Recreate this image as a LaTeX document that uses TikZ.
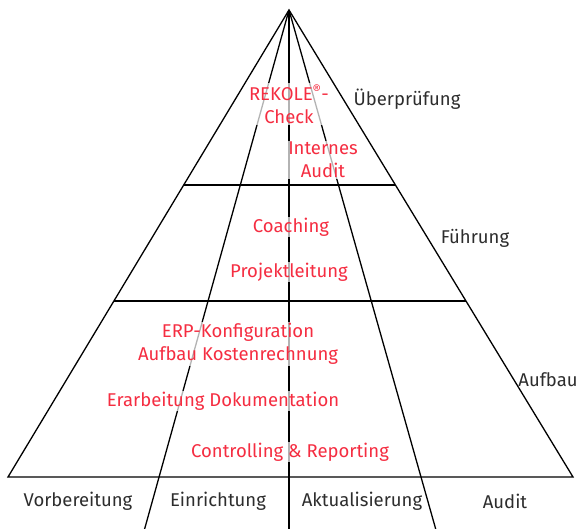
\documentclass[tikz,border=0pt]{standalone}
\usepackage{fontspec}
\setmainfont{Fira Sans}
\definecolor{redtxt}{RGB}{245,45,65}
\definecolor{darktxt}{RGB}{45,45,45}
\begin{document}
\begin{tikzpicture}[x=1pt,y=-1pt,
  edge/.style={draw=black,line width=1.3pt},
  redlbl/.style={text=redtxt,font=\fontsize{18.5}{23}\selectfont,align=center,fill=white,fill opacity=0.7,text opacity=1,inner sep=1pt},
  blklbl/.style={text=darktxt,font=\fontsize{18.5}{23}\selectfont,inner sep=1pt}]
\useasboundingbox (0,0) rectangle (580,529);
\coordinate (apex) at (289,10);
\coordinate (bl) at (8,477);
\coordinate (br) at (573,477);
\coordinate (d1) at (144.6,529);
\coordinate (d2) at (289,529);
\coordinate (d3) at (435.7,529);
\coordinate (h1l) at (183.7,185);
\coordinate (h1r) at (395.4,185);
\coordinate (h2l) at (113.9,301);
\coordinate (h2r) at (465.9,301);
\draw[edge,line join=miter] (bl) -- (apex) -- (br) -- cycle;
\draw[edge] (apex) -- (d1);
\draw[edge] (apex) -- (d2);
\draw[edge] (apex) -- (d3);
\draw[edge] (h1l) -- (h1r);
\draw[edge] (h2l) -- (h2r);
\node[redlbl] (rek) at (289,104) {REKOLE\textsuperscript{®}-\\Check};
\node[redlbl] (int) at (323,160) {Internes\\Audit};
\node[redlbl] (coa) at (291,227) {Coaching};
\node[redlbl] (pro) at (289,272) {Projektleitung};
\node[redlbl] (erp) at (238,344) {ERP-Konfiguration\\Aufbau Kostenrechnung};
\node[redlbl] (era) at (223,401) {Erarbeitung Dokumentation};
\node[redlbl] (con) at (290,452) {Controlling \& Reporting};
\node[blklbl] (ueb) at (407,99) {Überprüfung};
\node[blklbl] (fue) at (475,238) {Führung};
\node[blklbl] (auf) at (548,380) {Aufbau};
\node[blklbl] (vor) at (78,501) {Vorbereitung};
\node[blklbl] (ein) at (218,501) {Einrichtung};
\node[blklbl] (akt) at (362,501) {Aktualisierung};
\node[blklbl] (aud) at (505,501) {Audit};
\end{tikzpicture}
\end{document}
